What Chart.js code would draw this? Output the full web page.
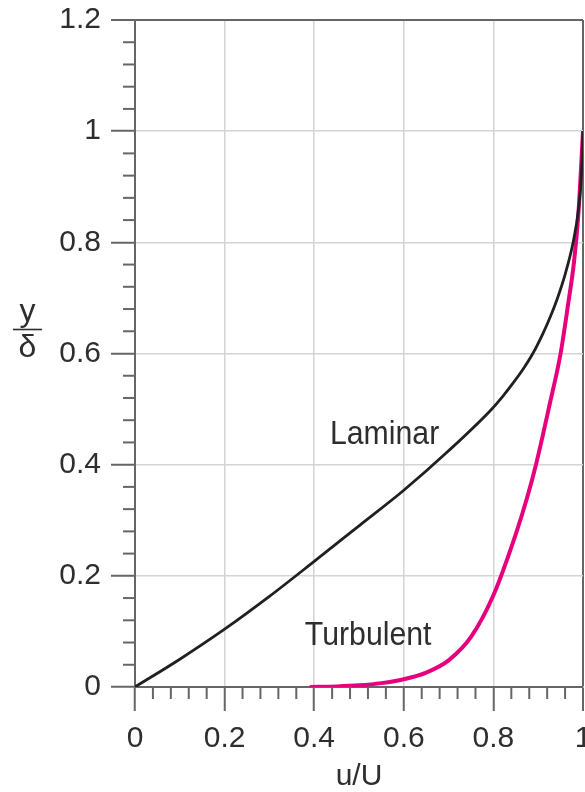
<!DOCTYPE html>
<html>
<head>
<meta charset="utf-8">
<script src="https://cdn.jsdelivr.net/npm/chart.js@4"></script>
<style>
  html, body { margin: 0; padding: 0; background: #fff; }
  #wrap { width: 585px; height: 792px; }
</style>
</head>
<body>
<div id="wrap"><canvas id="profileChart"></canvas></div>
<script>
// Profil kecepatan lapisan batas: laminar vs turbulen (y/delta terhadap u/U)
const laminarU = [0, 0.1, 0.2, 0.3, 0.4, 0.5, 0.6, 0.7, 0.794, 0.82, 0.845, 0.868, 0.888, 0.91, 0.928, 0.941, 0.96, 0.978, 0.99, 0.997, 1.0];
const laminarY = [0, 0.05, 0.104, 0.163, 0.226, 0.29, 0.354, 0.425, 0.498, 0.522, 0.548, 0.574, 0.6, 0.635, 0.668, 0.695, 0.742, 0.8, 0.86, 0.93, 1.0];

const turbulentU = [0.39, 0.45, 0.5, 0.55, 0.6, 0.65, 0.7, 0.75, 0.8, 0.85, 0.875, 0.895, 0.926, 0.95, 0.967, 0.98, 0.99, 1.0];
const turbulentY = [0, 0.001, 0.003, 0.007, 0.014, 0.026, 0.048, 0.09, 0.165, 0.275, 0.34, 0.4, 0.51, 0.6, 0.69, 0.765, 0.855, 1.0];

const xTicks = [0, 0.2, 0.4, 0.6, 0.8, 1];
const yTicks = [0, 0.2, 0.4, 0.6, 0.8, 1, 1.2];

const axisColor = '#666666';
const gridColor = '#d4d4d4';
const textColor = '#2e2e2e';

function toPoints(xs, ys) {
    return xs.map((x, i) => ({ x: x, y: ys[i] }));
}

// teks agak dipadatkan (font condensed tidak tersedia)
function narrowText(ctx, text, x, y, sx) {
    ctx.save();
    ctx.translate(x, y);
    ctx.scale(sx, 1);
    ctx.fillText(text, 0, 0);
    ctx.restore();
}

// Plugin: tick kecil (minor) dan teks label
const extrasPlugin = {
    id: 'extras',
    afterDraw(chart) {
        const ctx = chart.ctx;
        const xs = chart.scales.x;
        const ys = chart.scales.y;
        const area = chart.chartArea;

        ctx.save();
        ctx.strokeStyle = axisColor;
        ctx.lineWidth = 2;
        for (let i = 1; i < 25; i++) {
            if (i % 5 === 0) continue;
            const px = xs.getPixelForValue(i * 0.04);
            ctx.beginPath();
            ctx.moveTo(px, area.bottom);
            ctx.lineTo(px, area.bottom + 12);
            ctx.stroke();
        }
        for (let i = 1; i < 30; i++) {
            if (i % 5 === 0) continue;
            const py = ys.getPixelForValue(i * 0.04);
            ctx.beginPath();
            ctx.moveTo(area.left - 12, py);
            ctx.lineTo(area.left, py);
            ctx.stroke();
        }

        ctx.fillStyle = textColor;
        ctx.textBaseline = 'alphabetic';

        // label kurva
        ctx.font = '34px "Liberation Sans", sans-serif';
        ctx.textAlign = 'left';
        narrowText(ctx, 'Laminar', xs.getPixelForValue(0.435), ys.getPixelForValue(0.438), 0.89);
        narrowText(ctx, 'Turbulent', xs.getPixelForValue(0.379), ys.getPixelForValue(0.075), 0.89);

        // judul sumbu x
        ctx.font = '30px "Liberation Sans", sans-serif';
        ctx.textAlign = 'center';
        ctx.fillText('u/U', (area.left + area.right) / 2, 785);

        // judul sumbu y: y / delta
        ctx.font = '32px "Liberation Sans", sans-serif';
        ctx.fillText('y', 27.5, 321);
        ctx.fillText('\u03b4', 27.5, 357);
        ctx.strokeStyle = textColor;
        ctx.lineWidth = 1.6;
        ctx.beginPath();
        ctx.moveTo(13, 329.5);
        ctx.lineTo(42, 329.5);
        ctx.stroke();
        ctx.restore();
    }
};

const ctx = document.getElementById('profileChart').getContext('2d');

const profileChart = new Chart(ctx, {
    type: 'line',
    data: {
        datasets: [
            {
                label: 'Laminar',
                data: toPoints(laminarU, laminarY),
                borderColor: '#231f20',
                borderWidth: 2.8,
                pointRadius: 0,
                cubicInterpolationMode: 'monotone',
                fill: false,
            },
            {
                label: 'Turbulent',
                data: toPoints(turbulentU, turbulentY),
                borderColor: '#e6007e',
                borderWidth: 4,
                pointRadius: 0,
                cubicInterpolationMode: 'monotone',
                fill: false,
            }
        ]
    },
    options: {
        responsive: true,
        maintainAspectRatio: false,
        animation: false,
        layout: {
            padding: { top: 20, right: 2, bottom: 0, left: 0 }
        },
        plugins: {
            legend: { display: false },
            tooltip: { enabled: false }
        },
        scales: {
            x: {
                type: 'linear',
                min: 0,
                max: 1,
                afterBuildTicks: (scale) => { scale.ticks = xTicks.map(v => ({ value: v })); },
                afterFit: (scale) => {
                    scale.height = 105;
                    scale.paddingLeft = 0;
                    scale.paddingRight = 0;
                },
                border: { color: axisColor, width: 2 },
                grid: {
                    color: (c) => (c.tick && c.tick.value === 1 ? axisColor : gridColor),
                    lineWidth: (c) => (c.tick && c.tick.value === 1 ? 2 : 1.5),
                    tickColor: axisColor,
                    tickWidth: 2,
                    tickLength: 24,
                },
                ticks: {
                    padding: 10,
                    maxRotation: 0,
                    autoSkip: false,
                    color: textColor,
                    font: { family: '"Liberation Sans", sans-serif', size: 30 },
                    callback: (v) => String(+v.toFixed(1))
                }
            },
            y: {
                type: 'linear',
                min: 0,
                max: 1.2,
                afterBuildTicks: (scale) => { scale.ticks = yTicks.map(v => ({ value: v })); },
                afterFit: (scale) => {
                    scale.width = 135;
                    scale.paddingTop = 0;
                    scale.paddingBottom = 0;
                },
                border: { color: axisColor, width: 2 },
                grid: {
                    color: (c) => (c.tick && c.tick.value === 1.2 ? axisColor : gridColor),
                    lineWidth: (c) => (c.tick && c.tick.value === 1.2 ? 2 : 1.5),
                    tickColor: axisColor,
                    tickWidth: 2,
                    tickLength: 24,
                },
                ticks: {
                    padding: 10,
                    autoSkip: false,
                    color: textColor,
                    font: { family: '"Liberation Sans", sans-serif', size: 30 },
                    callback: (v) => String(+v.toFixed(1))
                }
            }
        }
    },
    plugins: [extrasPlugin]
});
</script>
</body>
</html>
